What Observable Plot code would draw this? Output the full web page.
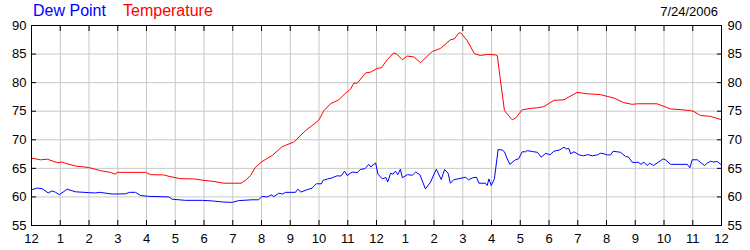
<!DOCTYPE html>
<html>
<head>
<meta charset="utf-8">
<script src="https://cdn.jsdelivr.net/npm/d3@7"></script>
<script src="https://cdn.jsdelivr.net/npm/@observablehq/plot@0.6"></script>
<style>
  html, body { margin: 0; padding: 0; background: #fff; }
  #wrap { position: relative; width: 750px; height: 250px; font-family: "Liberation Sans", Arial, sans-serif; }
  .leg { position: absolute; top: 2px; font-size: 16px; line-height: 18px; }
  #date { position: absolute; top: 4px; right: 32px; font-size: 13px; line-height: 15px; color: #000; }
  svg { display: block; }
</style>
</head>
<body>
<div id="wrap">
  <div class="leg" style="left:33px;color:#0000ff">Dew Point</div>
  <div class="leg" style="left:123px;color:#ff0000">Temperature</div>
  <div id="date">7/24/2006</div>
  <div id="chart"></div>
</div>
<script>
// Temperature (°F) — hours since midnight
const tempHours = [0,0.31,0.55,0.9,1.07,1.24,1.53,1.99,2.4,2.75,2.9,3.0,3.97,4.14,4.6,4.78,5.18,5.65,6.0,6.35,6.69,7.29,7.44,7.62,7.79,8.02,8.37,8.72,9.12,9.53,9.99,10.17,10.4,10.69,10.92,11.1,11.21,11.33,11.62,11.8,12.02,12.17,12.37,12.6,12.72,12.9,13.07,13.3,13.53,13.94,14.23,14.57,14.71,14.86,14.93,15.15,15.41,15.62,15.85,16.14,16.2,16.31,16.45,16.72,16.84,17.07,17.36,17.6,17.82,18.17,18.52,18.98,19.33,19.79,20.26,20.6,20.89,21.07,21.76,22.23,22.63,22.92,23.04,23.27,23.62,24];
const tempValues = [66.8,66.5,66.6,66.0,66.1,65.8,65.4,65.15,64.6,64.3,64.0,64.3,64.3,63.9,63.85,63.6,63.2,63.15,62.9,62.7,62.4,62.4,62.9,63.75,65.2,66.2,67.25,68.8,69.6,71.6,73.4,75.1,76.3,77.0,78.15,78.9,79.9,79.9,81.7,81.85,82.5,82.6,84.0,85.2,84.95,84.0,84.65,84.5,83.5,85.45,86.0,87.5,87.65,88.7,88.7,87.4,85.05,84.75,84.95,84.85,84.75,80.5,75.1,73.5,73.8,75.25,75.5,75.6,75.8,76.9,77.0,78.3,78.05,77.9,77.3,76.5,76.2,76.3,76.3,75.4,75.25,75.1,74.95,74.25,74.1,73.5];

// Dew point (°F)
const dewHours = [0,0.2,0.37,0.58,0.72,0.84,0.97,1.24,1.53,1.99,2.23,2.37,2.81,3.27,3.41,3.62,3.79,4.08,4.78,4.89,5.36,5.94,6.29,6.69,6.98,7.2,7.67,7.9,8.02,8.2,8.34,8.43,8.6,8.73,8.83,9.18,9.26,9.37,9.55,9.76,9.91,10.08,10.14,10.3,10.46,10.63,10.76,10.89,10.98,11.15,11.33,11.44,11.6,11.73,11.8,11.88,11.97,12.05,12.2,12.33,12.39,12.49,12.57,12.66,12.74,12.83,12.9,13.07,13.25,13.36,13.51,13.7,13.88,14.08,14.25,14.37,14.49,14.57,14.68,14.87,15.1,15.2,15.35,15.48,15.56,15.79,15.85,15.91,15.99,16.1,16.23,16.37,16.45,16.55,16.64,16.83,16.94,17.07,17.19,17.24,17.42,17.6,17.73,17.89,18.03,18.17,18.38,18.52,18.61,18.69,18.75,18.87,19.05,19.2,19.34,19.51,19.68,19.79,19.91,20.03,20.14,20.23,20.37,20.49,20.66,20.77,20.89,21.0,21.1,21.2,21.3,21.41,21.5,21.64,21.81,21.97,22.05,22.23,22.81,22.9,22.98,23.16,23.28,23.41,23.5,23.62,23.73,23.85,24];
const dewValues = [61.25,61.55,61.45,60.7,61.05,60.8,60.4,61.35,60.9,60.75,60.7,60.8,60.5,60.55,60.8,60.8,60.25,60.1,60.0,59.6,59.4,59.4,59.3,59.1,59.05,59.35,59.5,59.5,60.1,60.0,60.35,60.05,60.65,60.5,60.8,60.8,61.35,60.85,61.2,61.55,62.3,62.3,62.9,63.15,63.35,63.7,63.65,64.5,63.75,64.35,64.25,64.8,64.95,65.7,65.25,65.6,65.95,64.0,63.15,63.4,62.6,64.15,64.0,64.5,63.9,64.85,63.35,63.9,63.8,64.35,63.9,61.4,62.6,64.85,63.05,64.8,64.15,62.4,63.0,63.2,63.45,63.0,63.35,63.45,62.4,62.4,62.0,63.15,62.0,63.15,68.3,68.2,67.9,66.65,65.7,66.5,66.65,67.9,67.9,68.1,67.95,67.8,66.95,67.65,67.35,68.0,68.25,68.7,68.4,68.5,67.55,67.9,67.35,67.2,67.4,67.2,67.35,67.65,67.55,67.35,67.35,68.0,67.9,67.8,67.1,66.95,66.1,66.0,66.1,65.7,66.1,65.5,65.9,65.5,66.1,66.65,66.5,65.7,65.7,65.1,66.5,66.5,66.0,65.5,65.9,66.25,66.1,66.2,65.6];

const xTicks = d3.range(0, 25);
const xTickLabels = ["12","1","2","3","4","5","6","7","8","9","10","11","12","1","2","3","4","5","6","7","8","9","10","11","12"];
const yTicks = [55,60,65,70,75,80,85,90];

const temp = tempHours.map((h, i) => ({h, v: tempValues[i]}));
const dew = dewHours.map((h, i) => ({h, v: dewValues[i]}));

const fontStyle = {fontFamily: "Liberation Sans, Arial, sans-serif", fontSize: "13px", color: "#000", background: "#fff", overflow: "visible"};

const chart = Plot.plot({
  width: 750,
  height: 250,
  marginTop: 25,
  marginBottom: 25,
  marginLeft: 31,
  marginRight: 29,
  style: fontStyle,
  x: {domain: [0, 24]},
  y: {domain: [55, 90]},
  marks: [
    Plot.gridX(xTicks, {stroke: "#c8c8c8", strokeOpacity: 1}),
    Plot.gridY(yTicks, {stroke: "#c8c8c8", strokeOpacity: 1}),
    Plot.line(temp, {x: "h", y: "v", stroke: "#ff0000", strokeWidth: 1}),
    Plot.line(dew, {x: "h", y: "v", stroke: "#0000ff", strokeWidth: 1}),
    Plot.frame({stroke: "#000", strokeWidth: 1}),
    Plot.axisX(xTicks, {anchor: "bottom", tickSize: -5, tickPadding: 13, tickFormat: (d, i) => xTickLabels[i], label: null, fill: "#000", stroke: "#000", fontSize: 13}),
    Plot.axisX(xTicks, {anchor: "top", tickSize: -5, text: null, label: null, stroke: "#000"}),
    Plot.axisY(yTicks, {anchor: "left", tickSize: -5, tickPadding: 10, label: null, fill: "#000", stroke: "#000", fontSize: 13}),
    Plot.axisY(yTicks, {anchor: "right", tickSize: -5, tickPadding: 11, label: null, fill: "#000", stroke: "#000", fontSize: 13})
  ]
});
document.getElementById("chart").appendChild(chart);
</script>
</body>
</html>
